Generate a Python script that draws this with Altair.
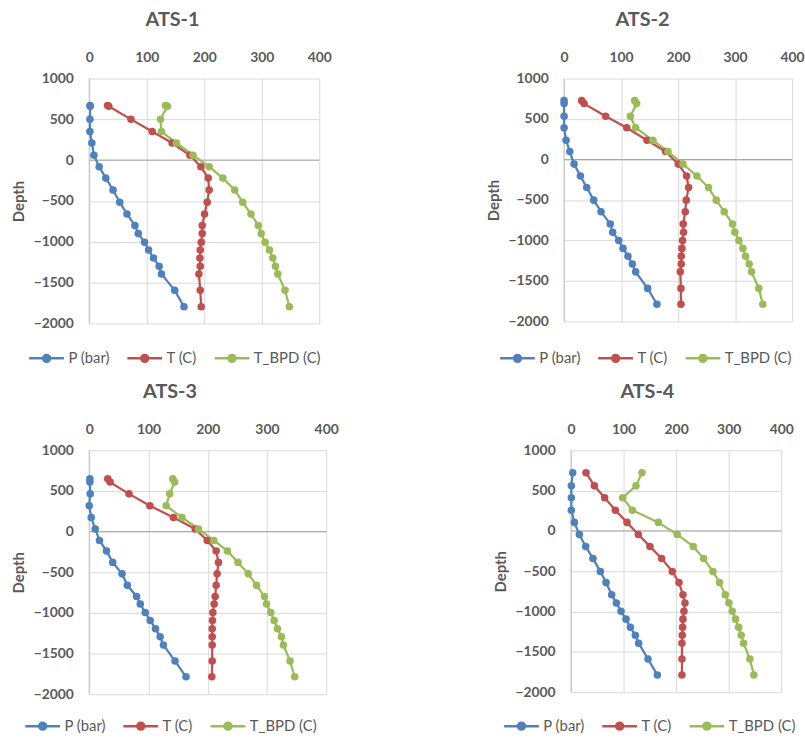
import altair as alt
import pandas as pd

SERIES = ["P (bar)", "T (C)", "T_BPD (C)"]
COLORS = ["#4F81BD", "#C0504D", "#9BBB59"]

# ---- ATS-1 ----
depth1 = [670, 660, 500, 350, 210, 60, -80, -220, -365, -515, -660, -800, -900, -1005, -1100, -1200, -1300, -1395, -1595, -1795]
p1 = [1.5, 1.7, 1.2, 1.2, 4.6, 8.1, 17.3, 28.8, 41.5, 53, 65.7, 79.5, 85.3, 96.3, 103.2, 111.8, 121.6, 125.6, 148.7, 164.8]
t1 = [32, 34, 72.6, 109.5, 144.1, 175.2, 194.2, 206.9, 208.6, 205.2, 200.6, 196.5, 196.5, 194.8, 193.1, 192.5, 193.1, 190.8, 193.1, 194.8]
tb1 = [132.5, 136, 123.9, 125.6, 151.6, 180.4, 208.6, 232.3, 253, 266.9, 281.3, 294, 299.1, 306, 313.5, 319.3, 323.9, 328, 340.6, 348.1]

# ---- ATS-2 ----
depth2 = [727, 690, 535, 392, 237, 98, -57, -204, -347, -502, -645, -796, -898, -1000, -1098, -1196, -1290, -1388, -1592, -1788]
p2 = [0, 0, 0, 0, 3.5, 10, 17.5, 28.6, 39.7, 52, 64.8, 81, 85.2, 95.8, 103.4, 112.1, 119.7, 125.5, 146.6, 162.9]
t2 = [30.9, 35, 72.9, 109.8, 145.4, 178, 200.3, 214.9, 218.4, 214.3, 212.6, 209, 209.6, 207.9, 206.7, 205.5, 205.5, 203.8, 205, 205]
tb2 = [123.8, 127.3, 116.2, 125.5, 155.9, 182.2, 208.5, 233, 253.4, 266.9, 280.9, 295.5, 299.6, 306.6, 313.6, 318.3, 324.7, 328.8, 341.6, 348.6]

# ---- ATS-3 ----
depth3 = [649, 609, 464, 319, 173, 32, -109, -238, -379, -520, -661, -798, -891, -996, -1093, -1194, -1294, -1395, -1593, -1786]
p3 = [1.1, 1.1, 1.7, 0, 3.4, 10.1, 17.3, 29.1, 39.7, 55.4, 64.3, 80, 86.2, 94.5, 102.9, 111.9, 119.7, 125.3, 144.9, 163.4]
t3 = [31.3, 35.2, 67.1, 102.4, 142.1, 179, 199.2, 214.3, 218.2, 215.9, 214.3, 212.6, 210.9, 208.7, 208.1, 207.6, 207.6, 207.6, 207.6, 207]
tb3 = [141, 144.3, 135.9, 129.8, 156.6, 184.6, 210.4, 233.3, 251.2, 268.5, 282.5, 295.9, 299.3, 306.6, 312.2, 317.8, 324.5, 327.8, 339, 346.9]

# ---- ATS-4 ----
depth4 = [722, 559, 412, 257, 106, -45, -192, -343, -502, -641, -792, -894, -996, -1094, -1196, -1294, -1392, -1588, -1788]
p4 = [3.2, 0.6, 0.6, 0.6, 6.3, 15.8, 27.9, 41.8, 55.8, 66.6, 77.4, 86.3, 95.1, 104.6, 112.9, 122.4, 128.7, 146.5, 164.3]
t4 = [28.5, 44.4, 64, 84.3, 106.5, 128, 150.2, 172.4, 192.7, 205.4, 213, 216.8, 214.9, 213, 212.4, 211.7, 211.1, 211.1, 211.1]
tb4 = [135, 123.6, 98.3, 116.7, 166.1, 202.2, 232.6, 252.3, 270, 282.7, 293.5, 300.5, 306.8, 313.1, 318.9, 323.9, 328.4, 340.4, 348]

X_TICKS = [0, 100, 200, 300, 400]
Y_TICKS = [1000, 500, 0, -500, -1000, -1500, -2000]

FONT = "Lato"
GRAY = "#595959"
SYMBOL = "M-1,0L1,0M-0.2,0A0.2,0.2,0,1,1,0.2,0A0.2,0.2,0,1,1,-0.2,0Z"


def panel(name, depth, p, t, tb, w, h, title_dx, legend_x, legend_y):
    rows = []
    for s, vals in zip(SERIES, [p, t, tb]):
        for i, (d, v) in enumerate(zip(depth, vals)):
            rows.append({"series": s, "idx": i, "depth": d, "value": v})
    df = pd.DataFrame(rows)

    x = alt.X("value:Q",
              scale=alt.Scale(domain=[0, 400], nice=False, zero=False),
              axis=alt.Axis(orient="top", values=X_TICKS, title=None, ticks=False,
                            domain=False, grid=True, gridColor="#D9D9D9",
                            labelFlush=False, labelOverlap=False,
                            labelFont=FONT, labelFontSize=14, labelFontWeight="bold",
                            labelColor=GRAY, labelPadding=14, format="d"))
    y = alt.Y("depth:Q",
              scale=alt.Scale(domain=[-2000, 1000], nice=False, zero=False),
              axis=alt.Axis(values=Y_TICKS, title="Depth", ticks=False, domain=False,
                            grid=True, gridColor="#D9D9D9",
                            labelFlush=False, labelOverlap=False,
                            labelFont=FONT, labelFontSize=14, labelFontWeight="bold",
                            labelColor=GRAY, labelPadding=16, format="d",
                            titleFont=FONT, titleFontSize=15, titleFontWeight="bold",
                            titleColor=GRAY, titlePadding=7))
    color = alt.Color("series:N",
                      scale=alt.Scale(domain=SERIES, range=COLORS),
                      legend=alt.Legend(orient="none", legendX=legend_x, legendY=legend_y,
                                        direction="horizontal", title=None,
                                        symbolType=SYMBOL, symbolSize=1225,
                                        symbolStrokeWidth=2.5, labelFont=FONT,
                                        labelFontSize=15, labelColor=GRAY,
                                        labelOffset=3, columnPadding=12))

    base = alt.Chart(df).encode(x=x, y=y, color=color, order=alt.Order("idx:Q"))
    line = base.mark_line(strokeWidth=2.25)
    pts = base.mark_point(filled=True, size=58, opacity=1)
    zero = alt.Chart(pd.DataFrame({"z": [0]})).mark_rule(color="#A6A6A6", strokeWidth=1).encode(
        y=alt.Y("z:Q", scale=alt.Scale(domain=[-2000, 1000], nice=False))
    )
    left = alt.Chart(pd.DataFrame({"z": [0]})).mark_rule(color="#BFBFBF", strokeWidth=1).encode(
        x=alt.X("z:Q", scale=alt.Scale(domain=[0, 400], nice=False))
    )
    return alt.layer(zero, left, line, pts).properties(
        width=w, height=h,
        title=alt.TitleParams(name, font=FONT, fontSize=20, fontWeight="bold",
                              color=GRAY, dx=title_dx, offset=21, anchor="middle"),
    )


c1 = panel("ATS-1", depth1, p1, t1, tb1, 232, 247, -32, -62, 263)
c2 = panel("ATS-2", depth2, p2, t2, tb2, 230, 245, -36, -66, 263)
c3 = panel("ATS-3", depth3, p3, t3, tb3, 239, 246, -38, -66, 259)
c4 = panel("ATS-4", depth4, p4, t4, tb4, 212, 244, -29, -69, 259)

row1 = alt.hconcat(c1, c2, spacing=155).resolve_scale(color="independent").resolve_legend(color="independent")
row2 = alt.hconcat(c3, c4, spacing=155).resolve_scale(color="independent").resolve_legend(color="independent")

chart = alt.concat(row1, row2, columns=1, spacing=15).resolve_scale(
    color="independent").resolve_legend(color="independent").properties(
    padding={"left": 11, "top": 7, "right": 0, "bottom": 0}
).configure_view(stroke=None)

chart.save("out.html", embed_options={"renderer": "svg", "actions": False})
